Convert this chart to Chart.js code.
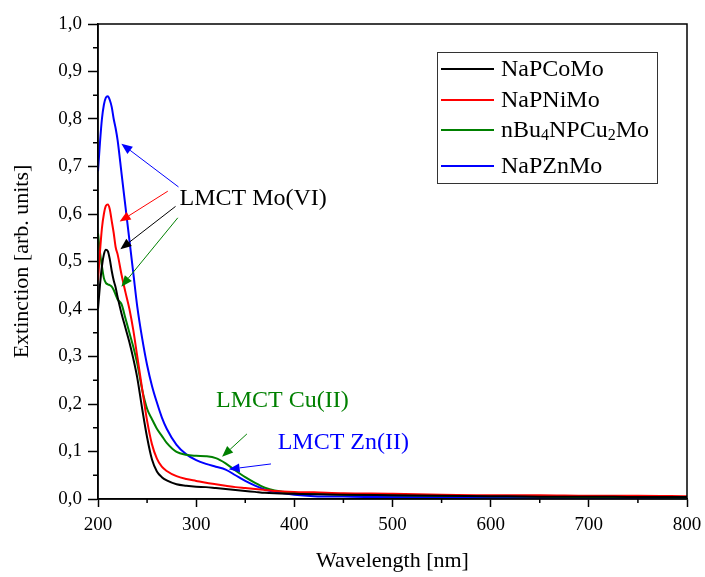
<!DOCTYPE html>
<html>
<head>
<meta charset="utf-8">
<script src="https://cdn.jsdelivr.net/npm/chart.js@4.4.0/dist/chart.umd.min.js"></script>
<style>
  html, body { margin: 0; padding: 0; background: #fff; }
  #wrap { width: 705px; height: 577px; }
</style>
</head>
<body>
<div id="wrap"><canvas id="spectra" width="705" height="577"></canvas></div>
<script>
// wavelengths (nm) shared by all spectra
const wavelengths = [200, 202, 204, 206, 208, 210, 212, 214, 216, 218, 220, 224, 228, 232, 236, 240,
  245, 250, 255, 260, 265, 270, 280, 290, 300, 310, 320, 330, 340, 350, 360, 370, 380,
  400, 420, 450, 500, 550, 600, 650, 700, 750, 800];

const naPCoMo = [0.40, 0.45, 0.49, 0.515, 0.525, 0.522, 0.505, 0.48, 0.46, 0.445, 0.425, 0.39, 0.36, 0.33, 0.295, 0.255,
  0.19, 0.13, 0.083, 0.058, 0.046, 0.039, 0.031, 0.028, 0.026, 0.025, 0.023, 0.021, 0.019, 0.017, 0.015, 0.013, 0.012,
  0.011, 0.010, 0.009, 0.008, 0.007, 0.006, 0.005, 0.005, 0.004, 0.004];

const naPNiMo = [0.46, 0.52, 0.57, 0.60, 0.617, 0.62, 0.61, 0.585, 0.56, 0.53, 0.515, 0.472, 0.435, 0.40, 0.355, 0.30,
  0.232, 0.165, 0.115, 0.085, 0.068, 0.059, 0.048, 0.042, 0.038, 0.034, 0.031, 0.028, 0.025, 0.023, 0.021, 0.019, 0.017,
  0.015, 0.014, 0.012, 0.011, 0.009, 0.008, 0.008, 0.007, 0.007, 0.006];

const nBu4NPCu2Mo = [0.56, 0.52, 0.49, 0.465, 0.455, 0.452, 0.45, 0.447, 0.44, 0.43, 0.42, 0.41, 0.38, 0.35, 0.32, 0.285,
  0.23, 0.19, 0.168, 0.148, 0.133, 0.118, 0.099, 0.093, 0.091, 0.09, 0.086, 0.075, 0.06, 0.046, 0.034, 0.024, 0.018,
  0.013, 0.011, 0.009, 0.008, 0.007, 0.006, 0.005, 0.004, 0.004, 0.003];

const naPZnMo = [0.69, 0.75, 0.80, 0.83, 0.845, 0.848, 0.84, 0.825, 0.80, 0.78, 0.755, 0.685, 0.615, 0.545, 0.475, 0.405,
  0.338, 0.282, 0.238, 0.203, 0.172, 0.148, 0.114, 0.094, 0.082, 0.074, 0.068, 0.062, 0.05, 0.038, 0.028, 0.02, 0.015,
  0.009, 0.006, 0.005, 0.004, 0.004, 0.003, 0.003, 0.003, 0.003, 0.003];

const seriesNames = ['NaPCoMo', 'NaPNiMo', 'nBu₄NPCu₂Mo', 'NaPZnMo'];
const seriesColors = ['#000000', '#ff0000', '#008000', '#0000ff'];
const seriesValues = [naPCoMo, naPNiMo, nBu4NPCu2Mo, naPZnMo];

// band assignments: label anchor and arrows, in (nm, extinction)
const bandLabels = [
  { text: 'LMCT Mo(VI)', color: '#000000', at: [283, 0.62] },
  { text: 'LMCT Cu(II)', color: '#008000', at: [320.3, 0.1945] },
  { text: 'LMCT Zn(II)', color: '#0000ff', at: [383, 0.1047] }
];
const bandArrows = [
  { color: '#0000ff', from: [282, 0.657], to: [223.8, 0.748] },
  { color: '#ff0000', from: [271.1, 0.648], to: [222, 0.584] },
  { color: '#000000', from: [279, 0.616], to: [222.8, 0.526] },
  { color: '#008000', from: [281.3, 0.592], to: [223.8, 0.447] },
  { color: '#008000', from: [351.7, 0.137], to: [326.4, 0.089] },
  { color: '#0000ff', from: [376.2, 0.0738], to: [333.1, 0.0626] }
];

const SERIF = "'Liberation Serif', 'Times New Roman', serif";
Chart.defaults.font.family = SERIF;
Chart.defaults.color = '#000';

const SUBS = '₀₁₂₃₄₅₆₇₈₉';

// text with unicode subscript digits drawn as lowered small digits
function drawRichText(ctx, text, x, y, size) {
  let cx = x;
  for (const ch of text) {
    const si = SUBS.indexOf(ch);
    if (si >= 0) {
      ctx.font = Math.round(size * 0.68) + 'px ' + SERIF;
      ctx.fillText(String(si), cx, y + size * 0.22);
      cx += ctx.measureText(String(si)).width;
    } else {
      ctx.font = size + 'px ' + SERIF;
      ctx.fillText(ch, cx, y);
      cx += ctx.measureText(ch).width;
    }
  }
}

function drawArrow(ctx, x1, y1, x2, y2, color) {
  const ang = Math.atan2(y2 - y1, x2 - x1);
  const len = 11, half = 4.5;
  const bx = x2 - len * Math.cos(ang), by = y2 - len * Math.sin(ang);
  ctx.strokeStyle = color;
  ctx.fillStyle = color;
  ctx.lineWidth = 1;
  ctx.beginPath();
  ctx.moveTo(x1, y1);
  ctx.lineTo(bx, by);
  ctx.stroke();
  ctx.beginPath();
  ctx.moveTo(x2, y2);
  ctx.lineTo(bx + half * Math.sin(ang), by - half * Math.cos(ang));
  ctx.lineTo(bx - half * Math.sin(ang), by + half * Math.cos(ang));
  ctx.closePath();
  ctx.fill();
}

const framePlugin = {
  id: 'frame',
  afterDraw(chart) {
    const { ctx, chartArea: a, scales: { x, y } } = chart;
    ctx.save();
    // minor ticks
    ctx.strokeStyle = '#000';
    ctx.lineWidth = 1.5;
    ctx.beginPath();
    for (let v = 250; v < 800; v += 100) {
      const px = x.getPixelForValue(v);
      ctx.moveTo(px, a.bottom);
      ctx.lineTo(px, a.bottom + 4);
    }
    for (let v = 0.05; v < 1; v += 0.1) {
      const py = y.getPixelForValue(v);
      ctx.moveTo(a.left, py);
      ctx.lineTo(a.left - 5, py);
    }
    ctx.stroke();
    // box round the plot
    ctx.strokeRect(a.left, a.top, a.right - a.left, a.bottom - a.top);

    // band labels and arrows
    ctx.textBaseline = 'alphabetic';
    ctx.textAlign = 'left';
    ctx.font = '24px ' + SERIF;
    bandLabels.forEach(l => {
      ctx.fillStyle = l.color;
      ctx.fillText(l.text, x.getPixelForValue(l.at[0]), y.getPixelForValue(l.at[1]));
    });
    bandArrows.forEach(ar => {
      drawArrow(ctx,
        x.getPixelForValue(ar.from[0]), y.getPixelForValue(ar.from[1]),
        x.getPixelForValue(ar.to[0]), y.getPixelForValue(ar.to[1]), ar.color);
    });

    // legend box
    const lx = a.right - 250, ly = a.top + 28, lw = 220, lh = 131;
    ctx.fillStyle = '#fff';
    ctx.fillRect(lx, ly, lw, lh);
    ctx.strokeStyle = '#333';
    ctx.lineWidth = 1;
    ctx.strokeRect(lx + 0.5, ly + 0.5, lw, lh);
    const rows = [17, 48, 78, 114];
    chart.data.datasets.forEach((ds, i) => {
      const ry = ly + rows[i];
      ctx.strokeStyle = ds.borderColor;
      ctx.lineWidth = 2;
      ctx.beginPath();
      ctx.moveTo(lx + 4, ry);
      ctx.lineTo(lx + 57, ry);
      ctx.stroke();
      ctx.fillStyle = '#000';
      ctx.textBaseline = 'middle';
      drawRichText(ctx, ds.label, lx + 64, ry + 1, 24);
    });
    ctx.restore();
  }
};

new Chart(document.getElementById('spectra'), {
  type: 'line',
  data: {
    datasets: seriesValues.map((vals, i) => ({
      label: seriesNames[i],
      data: wavelengths.map((w, k) => ({ x: w, y: vals[k] })),
      borderColor: seriesColors[i],
      borderWidth: 2,
      pointRadius: 0,
      cubicInterpolationMode: 'monotone',
      fill: false
    }))
  },
  options: {
    responsive: false,
    animation: false,
    layout: { padding: { top: 24, right: 18, left: 0, bottom: 0 } },
    plugins: {
      legend: { display: false },
      tooltip: { enabled: false }
    },
    scales: {
      x: {
        type: 'linear',
        min: 200,
        max: 800,
        ticks: { stepSize: 100, font: { size: 19 }, color: '#000', padding: 7 },
        grid: { drawOnChartArea: false, tickLength: 8, tickColor: '#000', tickWidth: 1.5 },
        border: { color: '#000', width: 1.5 },
        title: { display: true, text: 'Wavelength [nm]', font: { size: 22 }, color: '#000', padding: { top: 4, bottom: 3 } },
        afterFit(scale) {
          scale.height = 78;
          // the 800 label may hang into the right margin
          scale.paddingLeft = 0;
          scale.paddingRight = 0;
        }
      },
      y: {
        min: 0,
        max: 1,
        ticks: {
          stepSize: 0.1,
          font: { size: 19 },
          color: '#000',
          padding: 6,
          callback: v => v.toFixed(1).replace('.', ',')
        },
        grid: { drawOnChartArea: false, tickLength: 10, tickColor: '#000', tickWidth: 1.5 },
        border: { color: '#000', width: 1.5 },
        title: { display: true, text: 'Extinction [arb. units]', font: { size: 22 }, color: '#000', padding: { top: 9, bottom: 0 } },
        afterFit(scale) { scale.width = 98; }
      }
    }
  },
  plugins: [framePlugin]
});
</script>
</body>
</html>
